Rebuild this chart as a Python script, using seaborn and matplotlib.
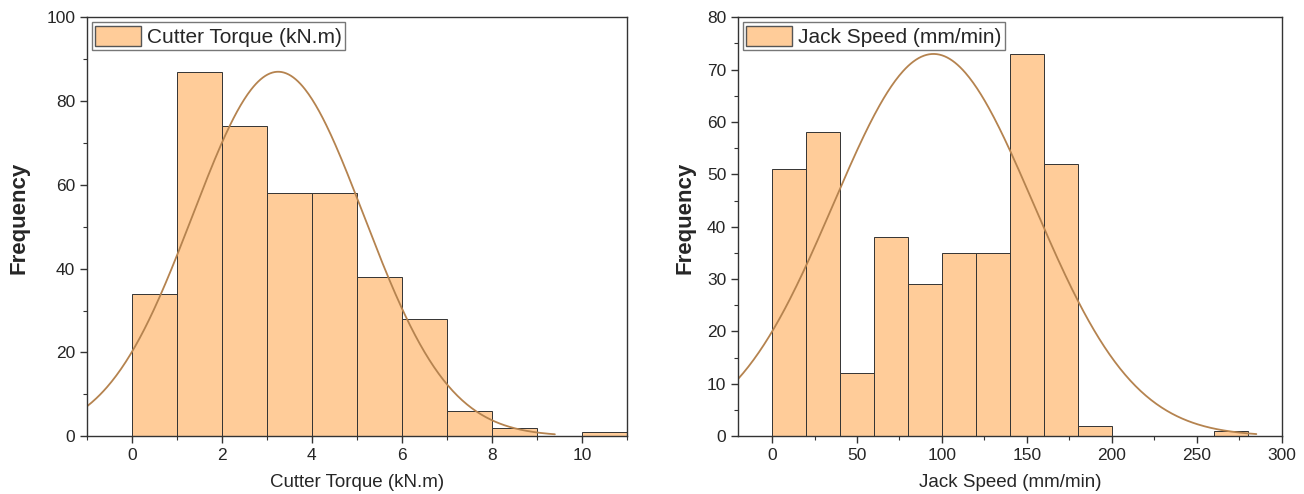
import numpy as np
import pandas as pd
import seaborn as sns
import matplotlib.pyplot as plt
from matplotlib.patches import Patch
from matplotlib.ticker import MultipleLocator

# bin counts
torque_edges = [0, 1, 2, 3, 4, 5, 6, 7, 8, 9, 10, 11]
torque_counts = [34, 87, 74, 58, 58, 38, 28, 6, 2, 0, 1]
speed_edges = [0, 20, 40, 60, 80, 100, 120, 140, 160, 180, 200, 220, 240, 260, 280]
speed_counts = [51, 58, 12, 38, 29, 35, 35, 73, 52, 2, 0, 0, 0, 1]

# fitted normal curves (mean, sd, peak, x range)
torque_fit = dict(mean=3.25, sd=1.9, peak=87, start=-1, stop=9.4)
speed_fit = dict(mean=95, sd=59, peak=73, start=-20, stop=285)

sns.set_style("ticks")
plt.rcParams['font.family'] = ['Liberation Sans', 'DejaVu Sans']

fill = "#FFCC99"
curve_col = "#B5834F"

fig = plt.figure(figsize=(13.04, 4.94), dpi=100)
ax1 = fig.add_axes([0.0667, 0.117, 0.414, 0.848])
ax2 = fig.add_axes([0.566, 0.117, 0.417, 0.848])


def draw(ax, edges, counts, fit, label, xlim, ylim, xmaj, xmin, ymaj, ymin, ylab_x):
    df = pd.DataFrame({"x": edges[:-1], "w": counts})
    df["x"] = df["x"] + (edges[1] - edges[0]) / 2
    sns.histplot(data=df, x="x", weights="w", bins=edges, ax=ax,
                 color=fill, alpha=1, edgecolor="#333333", linewidth=0.7)
    xs = np.linspace(fit["start"], fit["stop"], 400)
    ys = fit["peak"] * np.exp(-((xs - fit["mean"]) ** 2) / (2 * fit["sd"] ** 2))
    ax.plot(xs, ys, color=curve_col, lw=1.3)
    ax.set_xlim(*xlim)
    ax.set_ylim(*ylim)
    ax.xaxis.set_major_locator(MultipleLocator(xmaj))
    ax.xaxis.set_minor_locator(MultipleLocator(xmin))
    ax.yaxis.set_major_locator(MultipleLocator(ymaj))
    ax.yaxis.set_minor_locator(MultipleLocator(ymin))
    ax.tick_params(which="major", length=5, width=1, labelsize=12.5, color="#333333")
    ax.tick_params(which="minor", length=3, width=0.8, color="#333333")
    for s in ax.spines.values():
        s.set_linewidth(1)
        s.set_color("#333333")
    ax.set_xlabel(label, fontsize=13.5, labelpad=8)
    ax.set_ylabel("Frequency", fontsize=16, fontweight="bold")
    ax.yaxis.set_label_coords(ylab_x, 0.52)
    handle = Patch(facecolor=fill, edgecolor="#555555", linewidth=1)
    ax.legend([handle], [label], loc="upper left", fontsize=15,
              fancybox=False, edgecolor="#777777", framealpha=1,
              handlelength=2.2, handleheight=1.1, borderpad=0.15,
              borderaxespad=0.25, handletextpad=0.3)


draw(ax1, torque_edges, torque_counts, torque_fit, "Cutter Torque (kN.m)",
     (-1, 11), (0, 100), 2, 1, 20, 10, -0.107)
draw(ax2, speed_edges, speed_counts, speed_fit, "Jack Speed (mm/min)",
     (-20, 300), (0, 80), 50, 25, 10, 5, -0.079)

fig.savefig("out.png", dpi=100)
